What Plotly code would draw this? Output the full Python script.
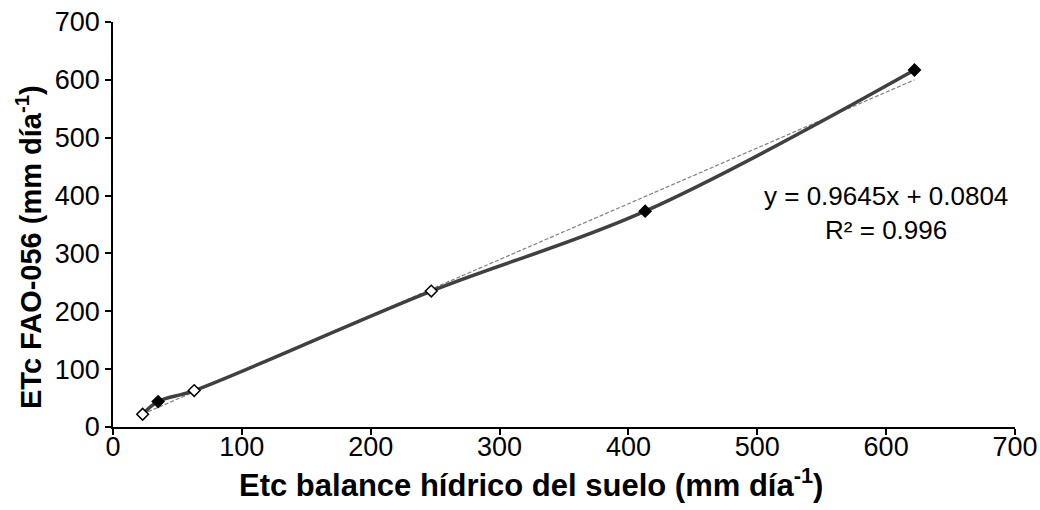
import plotly.graph_objects as go

# Crop evapotranspiration: soil water balance vs FAO-56 method
etc_balance = [23, 35, 63, 247, 413, 622]
etc_fao = [22, 44, 63, 235, 373, 617]
marker_fill = ["white", "black", "white", "white", "black", "black"]

slope = 0.9645
intercept = 0.0804
r_squared = 0.996

x_title = "<b>Etc balance hídrico del suelo (mm día<sup>-1</sup>)</b>"
y_title = "<b>ETc FAO-056 (mm día<sup>-1</sup>)</b>"

trend_x = [min(etc_balance), max(etc_balance)]
trend_y = [slope * v + intercept for v in trend_x]

font_family = "Liberation Sans, Arial, sans-serif"
W, H = 1040, 510
ML, MR, MT, MB = 113, 25, 22, 83
PW, PH = W - ML - MR, H - MT - MB


def px_to_paper(px, py):
    """Convert a pixel position on the page to plot-area paper coordinates."""
    return (px - ML) / PW, (H - MB - py) / PH


fig = go.Figure()

# linear trendline
fig.add_trace(go.Scatter(
    x=trend_x, y=trend_y, mode="lines",
    line=dict(color="#808080", width=1.2, dash="4px,2px"),
    hoverinfo="skip", showlegend=False,
))

# smoothed measured series
fig.add_trace(go.Scatter(
    x=etc_balance, y=etc_fao, mode="lines+markers",
    line=dict(color="#404040", width=3.5, shape="spline", smoothing=1),
    marker=dict(symbol="diamond", size=9, color=marker_fill,
                line=dict(color="black", width=1.5)),
    showlegend=False,
))

fig.add_annotation(
    x=600, y=370, xref="x", yref="y", showarrow=False,
    text=f"y = {slope}x + {intercept}<br>R² = {r_squared}",
    font=dict(family=font_family, size=26, color="black"),
    align="center",
)

# axis titles placed as paper annotations
xt_x, xt_y = px_to_paper(531, 483)
fig.add_annotation(
    x=xt_x, y=xt_y, xref="paper", yref="paper",
    xanchor="center", yanchor="middle", showarrow=False,
    text=x_title, font=dict(family=font_family, size=31, color="black"),
)
yt_x, yt_y = px_to_paper(29, 247)
fig.add_annotation(
    x=yt_x, y=yt_y, xref="paper", yref="paper",
    xanchor="center", yanchor="middle", showarrow=False, textangle=-90,
    text=y_title, font=dict(family=font_family, size=29, color="black"),
)

axis_common = dict(
    showgrid=False, zeroline=False, showline=True, linecolor="black",
    linewidth=1.5, ticks="outside", ticklen=6, tickwidth=1.5, tickcolor="black",
    tickfont=dict(family=font_family, size=27, color="black"),
    dtick=100, automargin=False,
)

fig.update_xaxes(range=[0, 700], ticklabelstandoff=-11, **axis_common)
fig.update_yaxes(range=[0, 700], **axis_common)

fig.update_layout(
    width=W, height=H,
    margin=dict(l=ML, r=MR, t=MT, b=MB),
    paper_bgcolor="white", plot_bgcolor="white",
)

fig.write_html("out.html")
